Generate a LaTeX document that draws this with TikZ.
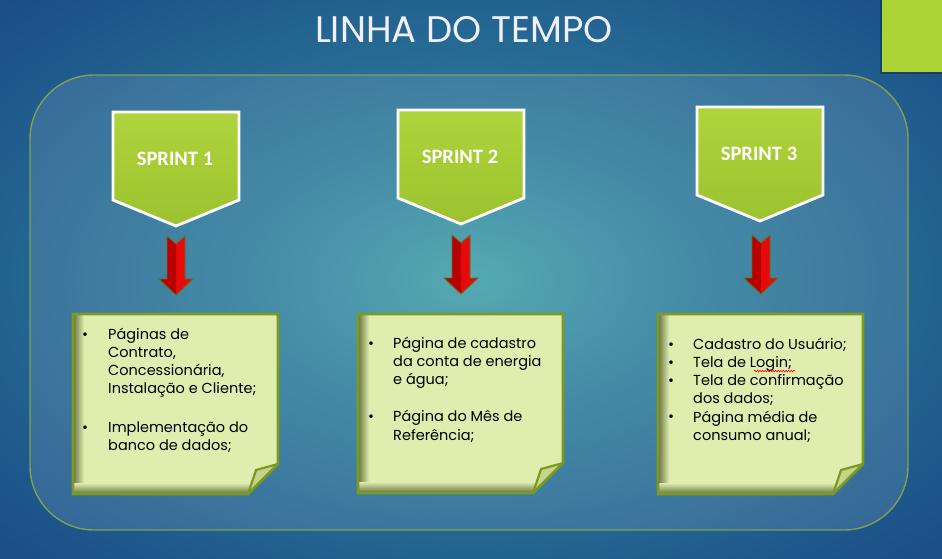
\documentclass[tikz,border=0pt]{standalone}
\usepackage{fontspec}
\setmainfont{Poppins}
\newfontfamily\sprintfont{Carlito}
\usetikzlibrary{decorations.pathmorphing}
\definecolor{bgA}{HTML}{40A0AA}
\definecolor{bgB}{HTML}{2E7C9C}
\definecolor{bgC}{HTML}{1C5389}
\definecolor{bgD}{HTML}{123A72}
\definecolor{lime}{HTML}{ABD338}
\definecolor{sprA}{HTML}{AFD43C}
\definecolor{sprB}{HTML}{9CC22E}
\definecolor{notefill}{HTML}{DFEDAF}
\definecolor{noteborder}{HTML}{7C9A22}
\definecolor{noteshadow}{HTML}{66733F}
\definecolor{flap}{HTML}{C4D589}
\definecolor{panelborder}{HTML}{93B044}
\definecolor{arrowred}{HTML}{E80A0A}
\definecolor{arrowdark}{HTML}{B80000}
\definecolor{arrowedge}{HTML}{5F7020}
\pgfdeclareradialshading{bgshade}{\pgfpoint{0bp}{0bp}}{color(0bp)=(bgA); color(12bp)=(bgB); color(32bp)=(bgC); color(50bp)=(bgD); color(70bp)=(bgD)}
\newcommand\fs{\rule{0pt}{14pt}}
\newcommand\sprintbox[4]{% name, left x, top y, label
  \shade[top color=sprA, bottom color=sprB, draw=white, line width=2.8, line join=miter]
    (#2,#3) -- ++(126,0) -- ++(0,88) -- ++(-63,26) -- ++(-63,-26) -- cycle;
  \node[sprinttxt] (#1) at (#2+62,#3+47) {#4};}
\newcommand\redarrow[3]{% name, centre x, top y
  \coordinate (#1) at (#2,#3);
  \fill[arrowred] (#2-9,#3) -- (#2,#3+8) -- (#2+9,#3) -- (#2+9,#3+43) -- (#2+17,#3+43) -- (#2,#3+59) -- (#2-17,#3+43) -- (#2-9,#3+43) -- cycle;
  \fill[arrowdark] (#2-9,#3) -- (#2,#3+8) -- (#2,#3+59) -- (#2-17,#3+43) -- (#2-9,#3+43) -- cycle;
  \draw[arrowedge, line width=0.9, line join=miter] (#2-9,#3) -- (#2,#3+8) -- (#2+9,#3) -- (#2+9,#3+43) -- (#2+17,#3+43) -- (#2,#3+59) -- (#2-17,#3+43) -- (#2-9,#3+43) -- cycle;}
\newcommand\notebox[5]{% name, x1, y1, x2, y2
  \coordinate (#1) at (#2,#3);
  \fill[notefill] (#2,#3) -- (#4,#3) -- (#4,#5-30) -- (#4-30,#5) -- (#2,#5) -- cycle;
  \begin{scope}
    \clip (#2,#3) -- (#4,#3) -- (#4,#5-30) -- (#4-30,#5) -- (#2,#5) -- cycle;
    \shade[left color=noteshadow, right color=notefill] (#2,#3) rectangle (#2+11,#5);
    \shade[top color=notefill, bottom color=noteshadow] (#2,#5-11) rectangle (#4,#5);
  \end{scope}
  \fill[flap] (#4,#5-30) -- (#4-22,#5-24) -- (#4-30,#5) -- cycle;
  \draw[noteborder, line width=2.6, line join=miter] (#2,#3) -- (#4,#3) -- (#4,#5-30) -- (#4-30,#5) -- (#2,#5) -- cycle;
  \draw[noteborder, line width=2.2, line join=miter] (#4,#5-30) -- (#4-22,#5-24) -- (#4-30,#5);}
\begin{document}
\begin{tikzpicture}[x=1pt, y=-1pt,
  title/.style={text=white!94!blue, font=\fontsize{37}{42}\selectfont, inner sep=0},
  sprinttxt/.style={text=white, font=\sprintfont\bfseries\fontsize{20.5}{24}\selectfont, inner sep=0},
  notetxt/.style={anchor=north west, inner sep=0, align=left, text=black, font=\fontsize{14.5}{18.2}\selectfont},
  bullet/.style={anchor=base, inner sep=0, text=black, font=\fontsize{14.5}{18.2}\selectfont},
  panel/.style={draw=panelborder, draw opacity=0.8, fill=white, fill opacity=0.11, line width=1.4, rounded corners=64, inner sep=0}]
\useasboundingbox (0,0) rectangle (942,558);
\shade[shading=bgshade] (0,0) rectangle (942,558);
% corner square
\fill[black, opacity=0.25] (880,0) rectangle (942,74);
\fill[lime] (882,0) rectangle (942,72);
% title
\node[title] (ttl) at (464,30) {LINHA DO TEMPO};
% panel
\node[panel, minimum width=878, minimum height=455] (panel) at (469,302.5) {};
% sprints
\sprintbox{s1}{113}{112}{SPRINT 1}
\sprintbox{s2}{398}{110}{SPRINT 2}
\sprintbox{s3}{697}{107}{SPRINT 3}
% arrows
\redarrow{a1}{176}{236}
\redarrow{a2}{461}{235}
\redarrow{a3}{761}{235}
% notes
\notebox{n1}{73}{314}{278}{494}
\notebox{n2}{358}{314}{563}{493}
\notebox{n3}{658}{314}{863}{494}
% note 1 text
\node[bullet] (b11) at (85,339) {•};
\node[notetxt] (t11) at (108,325) {\fs Páginas de\\Contrato,\\Concessionária,\\Instalação e Cliente;};
\node[bullet] (b12) at (85,432) {•};
\node[notetxt] (t12) at (108,418) {\fs Implementação do\\banco de dados;};
% note 2 text
\node[bullet] (b21) at (371,348) {•};
\node[notetxt] (t21) at (393,334) {\fs Página de cadastro\\da conta de energia\\e água;};
\node[bullet] (b22) at (371,421.7) {•};
\node[notetxt] (t22) at (393,407.7) {\fs Página do Mês de\\Referência;};
% note 3 text
\node[bullet] (b31) at (671,349) {•};
\node[notetxt] (t31) at (693,335) {\fs Cadastro do Usuário;};
\node[bullet] (b32) at (671,367.2) {•};
\node[notetxt] (t32) at (693,353.2) {\fs Tela de Login;};
\node[bullet] (b33) at (671,385.4) {•};
\node[notetxt] (t33) at (693,371.4) {\fs Tela de confirmação\\dos dados;};
\node[bullet] (b34) at (671,421.8) {•};
\node[notetxt] (t34) at (693,407.8) {\fs Página média de\\consumo anual;};
\draw[red, line width=0.6, decorate, decoration={snake, amplitude=0.8pt, segment length=2.6pt}] (754,371) -- (795,371);
\end{tikzpicture}
\end{document}
